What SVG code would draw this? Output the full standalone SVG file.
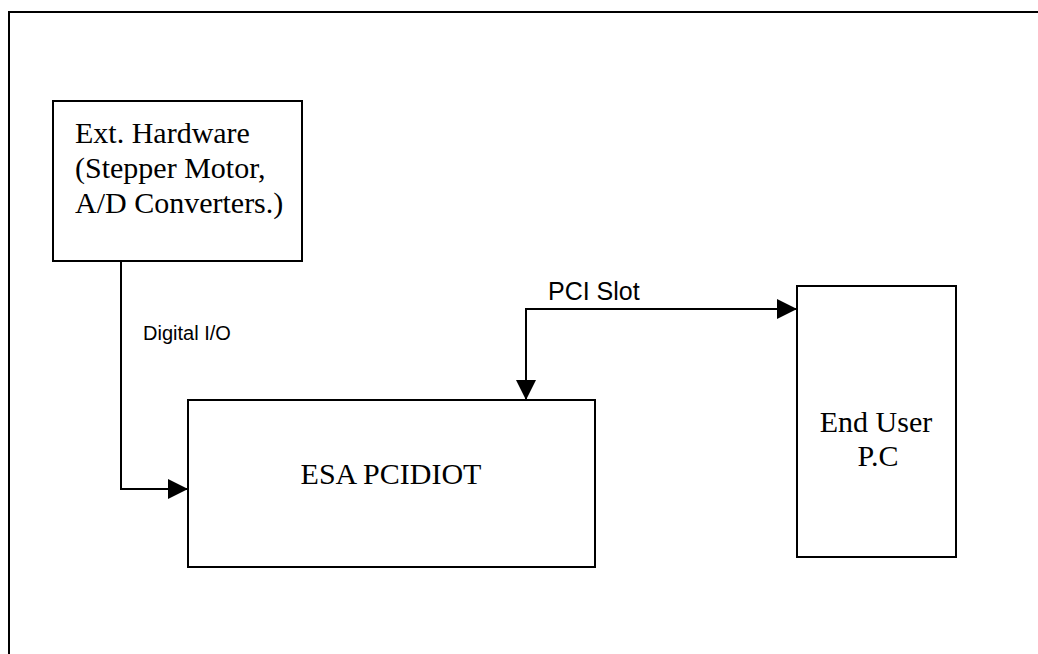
<svg xmlns="http://www.w3.org/2000/svg" width="1038" height="654" viewBox="0 0 1038 654">
  <style>
    .box { fill: #ffffff; stroke: #000000; stroke-width: 2; }
    .wire { fill: none; stroke: #000000; stroke-width: 2; }
    .serif { font-family: "Liberation Serif", "Times New Roman", serif; font-size: 30px; fill: #000000; }
    .sans { font-family: "Liberation Sans", Arial, sans-serif; fill: #000000; }
  </style>
  <defs>
    <marker id="arrow" markerUnits="userSpaceOnUse" markerWidth="20" markerHeight="20" refX="20" refY="10" orient="auto-start-reverse" viewBox="0 0 20 20">
      <path d="M0,0 L20,10 L0,20 z" fill="#000000"/>
    </marker>
  </defs>
  <rect x="0" y="0" width="1038" height="654" fill="#ffffff"/>
  <rect id="frame" x="9" y="12" width="1060" height="680" fill="none" stroke="#000000" stroke-width="2"/>

  <g id="connectors">
    <path id="digital-io" class="wire" d="M121,261 V489 H188" marker-end="url(#arrow)"/>
    <path id="pci-slot" class="wire" d="M526,400 V309 H797" marker-start="url(#arrow)" marker-end="url(#arrow)"/>
    <text class="sans" x="143" y="340" font-size="20">Digital I/O</text>
    <text class="sans" x="548" y="300" font-size="25">PCI Slot</text>
  </g>

  <g id="ext-hardware">
    <rect class="box" x="53" y="101" width="249" height="160"/>
    <text class="serif" x="75" y="143">Ext. Hardware</text>
    <text class="serif" x="75" y="178">(Stepper Motor,</text>
    <text class="serif" x="75" y="213">A/D Converters.)</text>
  </g>

  <g id="esa-pcidiot">
    <rect class="box" x="188" y="400" width="407" height="167"/>
    <text class="serif" x="391" y="484" text-anchor="middle">ESA PCIDIOT</text>
  </g>

  <g id="end-user-pc">
    <rect class="box" x="797" y="286" width="159" height="271"/>
    <text class="serif" x="876" y="432" text-anchor="middle">End User</text>
    <text class="serif" x="878" y="466" text-anchor="middle">P.C</text>
  </g>
</svg>
